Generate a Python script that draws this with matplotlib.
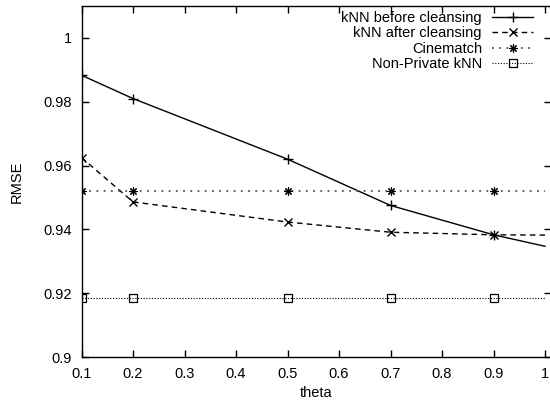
import numpy as np
import matplotlib
matplotlib.use('Agg')
import matplotlib.pyplot as plt
from matplotlib.ticker import FixedLocator, FuncFormatter

theta = [0.1, 0.2, 0.5, 0.7, 0.9, 1.0]
knnBefore = [0.9883, 0.9810, 0.9620, 0.9475, 0.9383, 0.9347]
knnAfter = [0.9625, 0.9486, 0.9423, 0.9391, 0.9383, 0.9382]
cinematch = [0.952, 0.952, 0.952, 0.952, 0.952, 0.952]
nonPrivate = [0.9184, 0.9184, 0.9184, 0.9184, 0.9184, 0.9184]

xTicks = [0.1, 0.2, 0.3, 0.4, 0.5, 0.6, 0.7, 0.8, 0.9, 1.0]
yTicks = [0.9, 0.92, 0.94, 0.96, 0.98, 1.0]

plt.rcParams['font.family'] = ['Liberation Sans', 'DejaVu Sans']
plt.rcParams['font.size'] = 10.5

fig = plt.figure(figsize=(5.5, 4), dpi=100)
ax = fig.add_axes([81.5 / 550, 43 / 400, (551 - 81.5) / 550, (394 - 43) / 400])

# no marker drawn at theta = 1 (edge of the plot)
marks = [0, 1, 2, 3, 4]
ax.plot(theta, knnBefore, color='black', lw=1.0, ls='-', marker='+', ms=7,
        mew=1.0, markevery=marks, label='kNN before cleansing')
ax.plot(theta, knnAfter, color='black', lw=1.0, ls=(0, (4, 3)), marker='x', ms=6,
        mew=1.0, markevery=marks, label='kNN after cleansing')
ax.plot(theta, cinematch, color='#555555', lw=1.3, ls=(0, (1, 3)), marker=(8, 2, 0),
        ms=6, mew=0.8, mec='black', markevery=marks, label='Cinematch')
ax.plot(theta, nonPrivate, color='black', lw=0.8, ls=(0, (1, 1.5)), marker='s', ms=6,
        mew=0.9, mfc='none', mec='black', markevery=marks, label='Non-Private kNN')

ax.set_xlim(0.1, 1.0 + 6 / 51.5 * 0.1)
ax.set_ylim(0.9, 1.01)
ax.xaxis.set_major_locator(FixedLocator(xTicks))
ax.yaxis.set_major_locator(FixedLocator(yTicks))
ax.xaxis.set_major_formatter(FuncFormatter(lambda v, p: '%g' % round(v, 2)))
ax.yaxis.set_major_formatter(FuncFormatter(lambda v, p: '%g' % round(v, 2)))
ax.tick_params(direction='in', length=5, width=1, top=True, right=True, pad=7)
for s in ax.spines.values():
    s.set_linewidth(1.0)

ax.set_xlabel('theta', labelpad=4)
ax.set_ylabel('RMSE', labelpad=14)

leg = ax.legend(loc='upper right', bbox_to_anchor=(533 / 550, 389 / 400),
                bbox_transform=fig.transFigure, frameon=False, markerfirst=False,
                handlelength=2.8, handletextpad=0.7, labelspacing=0.1,
                borderaxespad=0, borderpad=0)

fig.savefig('out.png', dpi=100)
